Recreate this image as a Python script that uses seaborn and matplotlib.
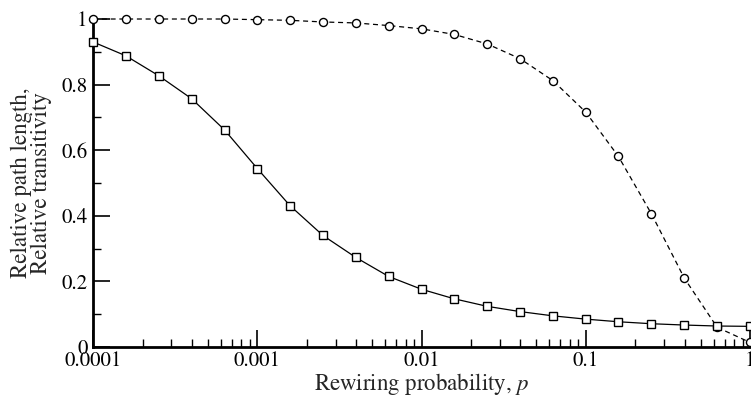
import pandas as pd
import seaborn as sns
import matplotlib.pyplot as plt
from matplotlib.ticker import MultipleLocator, FixedLocator, FixedFormatter

# Rewiring probabilities (5 per decade)
p = [0.0001, 0.000158, 0.000251, 0.000398, 0.000631,
     0.001, 0.00158, 0.00251, 0.00398, 0.00631,
     0.01, 0.0158, 0.0251, 0.0398, 0.0631,
     0.1, 0.158, 0.251, 0.398, 0.631, 1.0]

# Relative path length (squares, solid)
path_length = [0.930, 0.888, 0.827, 0.757, 0.662,
               0.544, 0.431, 0.340, 0.273, 0.215,
               0.176, 0.147, 0.124, 0.108, 0.095,
               0.085, 0.077, 0.071, 0.067, 0.064, 0.063]

# Relative transitivity (circles, dashed)
transitivity = [1.0, 1.0, 1.0, 1.0, 1.0,
                0.998, 0.996, 0.991, 0.988, 0.980,
                0.970, 0.953, 0.924, 0.879, 0.812,
                0.716, 0.581, 0.406, 0.210, 0.060, 0.014]

x_ticks = [0.0001, 0.001, 0.01, 0.1, 1]
x_tick_labels = ["0.0001", "0.001", "0.01", "0.1", "1"]
y_ticks = [0, 0.2, 0.4, 0.6, 0.8, 1]
y_tick_labels = ["0", "0.2", "0.4", "0.6", "0.8", "1"]

df = pd.DataFrame({"p": p, "path": path_length, "trans": transitivity})

sns.set_style("white")
# Times-like font shipped with matplotlib
plt.rcParams["font.family"] = ["STIXGeneral", "DejaVu Serif"]
plt.rcParams["mathtext.fontset"] = "stix"

fig = plt.figure(figsize=(7.51, 3.96), dpi=100)
ax = fig.add_axes([0.124, 0.1237, 0.8747, 0.8283])

sns.lineplot(data=df, x="p", y="trans", ax=ax, color="black", linewidth=0.9,
             linestyle=(0, (4, 3)), marker="o", markersize=5.8,
             markerfacecolor="white", markeredgecolor="black",
             markeredgewidth=1.0, clip_on=False, zorder=3)
sns.lineplot(data=df, x="p", y="path", ax=ax, color="black", linewidth=0.9,
             marker="s", markersize=5.3, markerfacecolor="white",
             markeredgecolor="black", markeredgewidth=1.0,
             clip_on=False, zorder=4)

ax.set_xscale("log")
ax.set_xlim(0.0001, 1)
ax.set_ylim(0, 1)

ax.xaxis.set_major_locator(FixedLocator(x_ticks))
ax.xaxis.set_major_formatter(FixedFormatter(x_tick_labels))
ax.yaxis.set_major_locator(FixedLocator(y_ticks))
ax.yaxis.set_major_formatter(FixedFormatter(y_tick_labels))
ax.yaxis.set_minor_locator(MultipleLocator(0.1))

ax.tick_params(which="both", direction="in", colors="black", labelsize=15,
               top=False, right=False, left=True, bottom=True)
ax.tick_params(which="major", length=12, width=1.2)
ax.tick_params(which="minor", length=6, width=1.0)
ax.tick_params(axis="x", which="both", pad=3)
ax.tick_params(axis="y", which="both", pad=4)

for side in ["top", "right"]:
    ax.spines[side].set_visible(False)
for side in ["left", "bottom"]:
    ax.spines[side].set_linewidth(2)
    ax.spines[side].set_color("black")

ax.set_xlabel("Rewiring probability, $p$", fontsize=16.5, labelpad=0)
ax.set_ylabel("Relative path length,\nRelative transitivity", fontsize=16.5,
              labelpad=7, linespacing=0.9)

fig.savefig("out.png", dpi=100)
